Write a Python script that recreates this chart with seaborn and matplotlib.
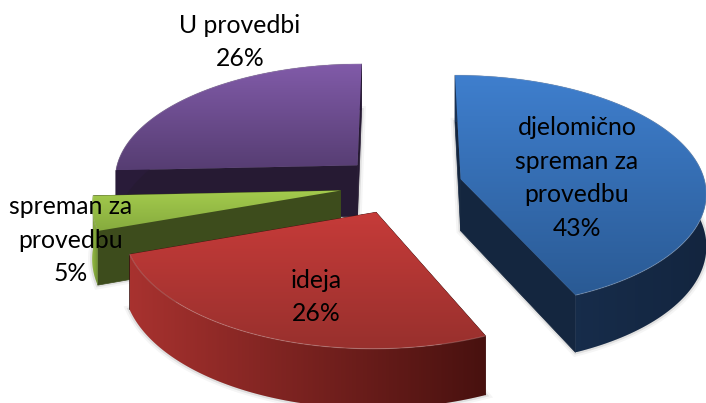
import numpy as np
import seaborn as sns
import matplotlib.pyplot as plt
from matplotlib.patches import Polygon

categories = ['djelomično\nspreman za\nprovedbu', 'ideja', 'spreman za\nprovedbu', 'U provedbi']
values = [43.4, 26.2, 4.7, 25.7]
draw_order = [3, 0, 2, 1]

top_colors = [('#3f7fce', '#2a5a94'), ('#c63b39', '#98302d'), ('#a4cb4d', '#86ab3e'), ('#815ba9', '#563d72')]
rim_colors = [('#1a3355', '#13253f'), ('#a8322f', '#48110f'), ('#96bd43', '#6f8f33'), ('#2a1c3a', '#241831')]
side_colors = ['#14263f', '#3f1210', '#3d4c1c', '#261a33']
label_pos = [(577, 178), (316, 297), (71, 240), (240, 42)]

# projection of the 3D pie, in pixels
X0, Y0 = 401, 185
RX, RY = 245, 116
PERSP = 0.105
DEPTH = 52
EXPLODE = 0.25

sns.set_theme(style='white')
plt.rcParams['font.family'] = ['Lato', 'DejaVu Sans']


def project(x, y, z=0):
    w = 1 + PERSP * y
    return X0 + RX * x / w, Y0 - RY * y / w + z / w


def gradient_fill(ax, pts, colors, horizontal, zorder):
    poly = Polygon(pts, closed=True, transform=ax.transData, fc='none', ec='none', zorder=zorder)
    ax.add_patch(poly)
    cmap = sns.blend_palette(colors, 64, as_cmap=True)
    grad = np.linspace(0, 1, 256)
    grad = grad[None, :] if horizontal else grad[:, None]
    x0, x1 = pts[:, 0].min(), pts[:, 0].max()
    y0, y1 = pts[:, 1].min(), pts[:, 1].max()
    im = ax.imshow(grad, cmap=cmap, extent=(x0, x1, y1, y0), aspect='auto',
                   interpolation='bilinear', zorder=zorder)
    im.set_clip_path(poly)


fig, ax = plt.subplots(figsize=(7.06, 4.03), dpi=100)
ax.set_position([0, 0, 1, 1])
ax.axis('off')

edges = np.radians(np.concatenate([[0], np.cumsum(values)]) * 3.6)

z = 1
for i in draw_order:
    start, end = edges[i], edges[i + 1]
    mid = (start + end) / 2
    cx, cy = EXPLODE * np.sin(mid), EXPLODE * np.cos(mid)
    theta = np.linspace(start, end, 120)
    ax_x = cx + np.sin(theta)
    ax_y = cy + np.cos(theta)

    arc_top = np.column_stack(project(ax_x, ax_y))
    arc_bot = np.column_stack(project(ax_x, ax_y, DEPTH))
    apex_top = np.array(project(cx, cy))
    apex_bot = np.array(project(cx, cy, DEPTH))
    top = np.vstack([apex_top, arc_top])
    bottom = np.vstack([apex_bot, arc_bot])

    # soft shadow under the slice
    for lw, alpha in [(6, 0.08), (3, 0.18)]:
        ax.add_patch(Polygon(bottom, closed=True, fc='#808080', ec='#808080', lw=lw,
                             alpha=alpha, zorder=z))
    z += 1

    # the two cut faces
    for a_top, a_bot in [(arc_top[0], arc_bot[0]), (arc_top[-1], arc_bot[-1])]:
        ax.add_patch(Polygon(np.array([apex_top, a_top, a_bot, apex_bot]), closed=True,
                             fc=side_colors[i], ec=side_colors[i], lw=0.5, zorder=z))
    z += 1

    # outer rim
    rim = np.vstack([arc_top, arc_bot[::-1]])
    gradient_fill(ax, rim, rim_colors[i], True, z)
    z += 1

    # top face
    gradient_fill(ax, top, top_colors[i], False, z)
    z += 1
    ax.plot(arc_top[:, 0], arc_top[:, 1], color=sns.light_palette(top_colors[i][1], 4)[1],
            lw=0.8, alpha=0.3, zorder=z)
    z += 1

for cat, val, (lx, ly) in zip(categories, values, label_pos):
    ax.text(lx, ly, f'{cat}\n{val:.0f}%', ha='center', va='center', fontsize=17.8,
            color='black', linespacing=1.55, zorder=z)

ax.set_xlim(0, 706)
ax.set_ylim(403, 0)
fig.savefig('out.png', dpi=100, facecolor='white')
